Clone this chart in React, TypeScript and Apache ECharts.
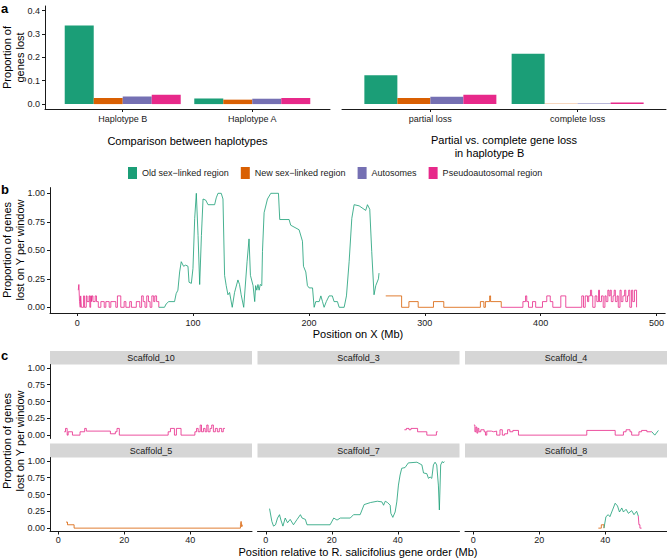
import React, { useEffect, useRef } from 'react';
import * as echarts from 'echarts';

const groups = ['Old sex−linked region', 'New sex−linked region', 'Autosomes', 'Pseudoautosomal region'];
const colors = ['#1B9E77', '#D95F02', '#7570B3', '#E7298A'];

// Panel a (left): comparison between haplotypes
const hapCategories = ['Haplotype B', 'Haplotype A'];
const hapOld = [0.337, 0.024];
const hapNew = [0.026, 0.019];
const hapAuto = [0.033, 0.023];
const hapPar = [0.040, 0.026];

// Panel a (right): partial vs complete loss in haplotype B
const lossCategories = ['partial loss', 'complete loss'];
const lossOld = [0.124, 0.216];
const lossNew = [0.026, 0.001];
const lossAuto = [0.031, 0.003];
const lossPar = [0.040, 0.007];

const aYTicks = [0, 0.1, 0.2, 0.3, 0.4];
const bXTicks = [0, 100, 200, 300, 400, 500];
const propTicks = [0, 0.25, 0.5, 0.75, 1];
const cXTicks = [0, 20, 40];

// Panel b: position on X (Mb), proportion lost on Y per window
const bParLeft = [[0.9,0.15],[1.4,0.2],[2.0,0.05],[2.6,0],[3.0,0.1],[3.6,0],[5.5,0.1],[6.2,0],[7.8,0.1],[8.5,0.05],[10.2,0.1],[10.9,0],[11.6,0.1],[12.3,0.05],[12.9,0.1],[13.6,0.05],[15.5,0.1],[16.6,0.05],[18.2,0],[20.4,0.05],[23.3,0],[24.7,0.05],[27.6,0],[29,0.05],[33.3,0],[34.7,0.1],[37.6,0],[40.5,0.05],[42,0],[45.3,0.05],[46.8,0],[51,0.05],[54,0],[55.6,0.1],[57,0.05],[58.5,0],[60,0.1],[61.5,0.05],[62.9,0],[64.4,0.1],[66,0.05],[67,0.1],[68.5,0.05],[70.4,0]];
const bOld = [[70.4,0],[75.3,0],[76.8,0.03],[79,0.05],[84,0.05],[85.4,0.12],[86.9,0.15],[88.4,0.31],[89.8,0.4],[91.8,0.36],[93.6,0.37],[95.6,0.36],[96.5,0.22],[98.5,0.21],[99.9,0.34],[101.4,0.78],[102.8,1.0],[104.3,0.63],[105.7,0.2],[107.2,0.63],[108.6,0.95],[110.9,0.94],[112.9,0.9],[118.6,0.9],[120,0.96],[121.5,1.0],[124.3,1.0],[125.8,0.95],[127.2,0.28],[128.6,0.19],[130.1,0.11],[131.5,0.13],[133.8,0],[135.8,0.13],[138.7,0.24],[140.1,0.2],[141.5,0.11],[143.7,0],[146.6,0.4],[148.3,0.6],[149.5,0.28],[151.8,0.19],[153.2,0.05],[154,0.19],[155,0.15],[156,0.2],[157,0.15],[158,0.2],[159.3,0.19],[159.9,0.49],[161.3,0.83],[164.2,0.95],[167.1,1.0],[173.7,1.0],[174.8,0.77],[182.9,0.77],[183.7,0.74],[184.3,0.72],[191.5,0.68],[194.4,0.58],[195.3,0.36],[197.3,0.31],[198.7,0.19],[200.2,0.17],[203.1,0.17],[204.5,0],[205.9,0.05],[208.8,0.05],[210.3,0.1],[211.7,0.05],[213.1,0],[215,0.05],[217.4,0.1],[220.2,0.1],[221.7,0.05],[224.6,0.05],[226.1,0],[230.4,0],[232.4,0.1],[234.7,0.4],[237,0.78],[239,0.9],[243.3,0.89],[249,0.85],[250.5,0.9],[252.5,0.86],[254.2,0.49],[256.2,0.11],[257.7,0.19],[260,0.25],[260.5,0.3]];
const bNew = [[266.3,0.1],[280,0],[286.3,0.05],[294.3,0],[307.5,0.05],[316.4,0],[348,0.05],[351,0],[352.3,0.05],[356,0.1],[356.8,0.05],[366,0]];
const bParRight = [[366,0],[384.7,0.05],[387,0.1],[388,0.05],[389.5,0],[393,0.05],[395.7,0],[401.6,0.05],[405.3,0.1],[408.3,0.05],[410.5,0],[417.4,0.1],[421.7,0],[435.5,0.1],[437,0],[438.5,0.1],[440.5,0.05],[441.5,0.1],[443,0.15],[444,0.1],[445,0],[447,0.1],[448.5,0.05],[450,0.15],[450.8,0.05],[452.5,0.1],[454,0],[455.5,0.1],[456.5,0.05],[458,0.15],[459,0.1],[460,0.15],[461,0.05],[462.5,0.1],[463.5,0.15],[464.5,0.05],[466,0.1],[467,0],[468.5,0.15],[469.5,0.05],[471,0.1],[472.5,0.15],[473.5,0.05],[475,0.1],[476,0.15],[477,0],[478.5,0.15],[479.5,0.05],[481,0.15],[482.8,0]];

// Panel c: scaffolds, position relative to R. salicifolius gene order (Mb)
const scaffoldNames = ['Scaffold_10', 'Scaffold_3', 'Scaffold_4', 'Scaffold_5', 'Scaffold_7', 'Scaffold_8'];
const s10Par = [[1.8,0.05],[2.2,0.1],[2.7,0],[3.0,0.05],[4.3,0],[6.6,0.05],[8.0,0.1],[8.5,0.06],[15.8,0.02],[17.3,0.05],[17.8,0.1],[18.5,0],[33.3,0.05],[34,0.1],[35.2,0],[35.8,0.1],[37.2,0],[41.4,0.05],[41.9,0.1],[42.4,0.05],[43,0.15],[43.4,0.05],[44,0.1],[44.5,0.05],[45,0.15],[45.4,0.05],[46,0.1],[46.5,0.15],[47,0.05],[47.6,0.1],[48.2,0.05],[48.8,0.1],[49.5,0.05],[50,0.1],[50.5,0.1]];
const s3Par = [[42,0.08],[42.6,0.1],[43.4,0.08],[44,0.1],[46,0.05],[48.8,0],[51.7,0.05],[52.1,0.05]];
const s4Par = [[0.2,0.15],[0.5,0.05],[0.8,0.12],[1.1,0.03],[1.4,0.1],[1.7,0.05],[2.3,0.08],[3.3,0.05],[3.7,0],[4.1,0.06],[5.5,0.05],[6.2,0.06],[7.1,0],[8.1,0.08],[8.8,0],[9.5,0.02],[10.4,0.08],[11.1,0.05],[12,0.07],[13.7,0],[34.4,0.07],[43,0],[45.5,0.05],[46.3,0.08],[47.5,0.05],[48,0],[50.2,0.05],[51,0.07],[52.6,0.05],[54.1,0.05]];
const s4Old = [[54.1,0.05],[55,0],[56.1,0.07]];
const s5New = [[2.35,0.09],[2.8,0.05],[4.8,0],[55.2,0.05],[55.4,0.1],[55.6,0.02],[55.8,0.05],[56,0.05]];
const s7Old = [[1.15,0.29],[1.85,0.1],[2.36,0.03],[2.96,0.05],[3.57,0.15],[4.17,0.2],[4.6,0.12],[5.2,0.03],[5.9,0.15],[6.6,0.08],[7.4,0.13],[8.4,0.05],[9.5,0.13],[10.5,0.2],[11,0.15],[12,0.13],[12.5,0.05],[19.5,0.05],[20.6,0.15],[21.6,0.12],[22.6,0.15],[25.6,0.15],[26.6,0.2],[28.6,0.2],[29.8,0.35],[31.7,0.38],[33.8,0.4],[35.2,0.39],[35.7,0.34],[36.2,0.4],[36.9,0.38],[37.7,0.34],[37.9,0.22],[38.5,0.16],[39.2,0.24],[39.7,0.39],[40.2,0.64],[40.7,0.79],[41.2,0.89],[42.2,0.9],[43.2,0.97],[45.8,0.98],[47.3,0.94],[47.8,0.82],[48.8,0.81],[49.3,0.74],[49.8,0.76],[50.3,0.74],[50.8,0.94],[51.3,0.98],[51.8,0.94],[52.3,0.64],[52.6,0.27],[53,0.94],[53.5,0.99],[53.8,0.97],[54.1,0.99]];
const s8New = [[37.9,0],[38.8,0.05],[39.6,0]];
const s8Old = [[39.6,0],[40.2,0.17],[40.9,0.2],[41.4,0.17],[42.2,0.27],[43,0.37],[43.7,0.33],[44.3,0.24],[45,0.3],[45.5,0.24],[46.3,0.28],[47,0.22],[48,0.26],[48.7,0.2],[49.5,0.25],[50,0.18]];
const s8Par = [[50,0.18],[50.2,0.05],[50.5,0],[51,0]];

const FONT = '"Liberation Sans", Arial, Helvetica, sans-serif';
const AX = '#1a1a1a';
const TXT = '#1a1a1a';

function valAxis(gridIndex: number, min: number, max: number, ticks: number[], o: any) {
  return {
    type: 'value', gridIndex, min, max,
    offset: o.offset || 0,
    axisLine: { show: !!o.line, onZero: false, lineStyle: { color: AX, width: 1 } },
    axisTick: { show: !!o.line, customValues: ticks, length: 3, lineStyle: { color: AX, width: 1 } },
    axisLabel: { show: !!o.labels, customValues: ticks, formatter: o.fmt, fontSize: 9, color: TXT, fontFamily: FONT, margin: o.margin ?? 5 },
    splitLine: { show: false },
  };
}

export default function App() {
  const ref = useRef<HTMLDivElement>(null);
  useEffect(() => {
    if (!ref.current) return;
    const chart = echarts.init(ref.current, null, { renderer: 'svg' });

    const grids: any[] = [
      { left: 45, top: 6, width: 285, height: 103 },
      { left: 342, top: 6, width: 324, height: 103 },
      { left: 50, top: 187.6, width: 617, height: 125.4 },
    ];
    const colLeft = [50, 257.5, 465];
    const rowTop = [364.5, 457.5];
    for (let r = 0; r < 2; r++) for (let c = 0; c < 3; c++) grids.push({ left: colLeft[c], top: rowTop[r], width: 202, height: 74 });

    const f2 = (v: number) => v.toFixed(2);
    const f1 = (v: number) => v.toFixed(1);
    const fi = (v: number) => String(Math.round(v));

    const xAxes: any[] = [
      valAxis(0, 0.4, 2.6, [1, 2], { line: true, labels: true, fmt: (v: number) => hapCategories[Math.round(v) - 1], margin: 5 }),
      valAxis(1, 0.4, 2.6, [1, 2], { line: true, labels: true, fmt: (v: number) => lossCategories[Math.round(v) - 1], margin: 5 }),
      valAxis(2, -23.5, 507.5, bXTicks, { line: true, labels: true, fmt: fi, margin: 5 }),
    ];
    const yAxes: any[] = [
      valAxis(0, -0.021, 0.42, aYTicks, { line: true, labels: true, fmt: f1 }),
      valAxis(1, -0.021, 0.42, aYTicks, { line: false, labels: false }),
      valAxis(2, -0.05, 1.05, propTicks, { line: true, labels: true, fmt: f2 }),
    ];
    for (let i = 0; i < 6; i++) {
      const r = Math.floor(i / 3), c = i % 3;
      xAxes.push(valAxis(3 + i, -2.5, 58.7, cXTicks, { line: r === 1, labels: r === 1, fmt: fi, margin: 4 }));
      yAxes.push(valAxis(3 + i, -0.05, 1.05, propTicks, { line: c === 0, labels: c === 0, fmt: f2 }));
    }

    const hapData = [hapOld, hapNew, hapAuto, hapPar];
    const lossData = [lossOld, lossNew, lossAuto, lossPar];
    const series: any[] = [];
    for (let g = 0; g < 4; g++) {
      series.push({ type: 'bar', name: groups[g], xAxisIndex: 0, yAxisIndex: 0, barWidth: 29, barGap: '0%',
        itemStyle: { color: colors[g] }, data: hapData[g].map((v, j) => [j + 1, v]) });
    }
    for (let g = 0; g < 4; g++) {
      series.push({ type: 'bar', name: groups[g], xAxisIndex: 1, yAxisIndex: 1, barWidth: 33, barGap: '0%',
        itemStyle: { color: colors[g] }, data: lossData[g].map((v, j) => [j + 1, v]) });
    }
    const line = (name: number, axis: number, data: number[][], step: boolean) => ({
      type: 'line', name: groups[name], xAxisIndex: axis, yAxisIndex: axis, data,
      showSymbol: false, symbol: 'none', step: step ? 'end' : false, clip: true,
      lineStyle: { color: colors[name], width: 0.9, opacity: 0.9 }, itemStyle: { color: colors[name] },
    });
    series.push(line(3, 2, bParLeft, true));
    series.push(line(0, 2, bOld, false));
    series.push(line(1, 2, bNew, true));
    series.push(line(3, 2, bParRight, true));
    series.push(line(3, 3, s10Par, true));
    series.push(line(3, 4, s3Par, true));
    series.push(line(3, 5, s4Par, true));
    series.push(line(0, 5, s4Old, false));
    series.push(line(1, 6, s5New, true));
    series.push(line(0, 7, s7Old, false));
    series.push(line(1, 8, s8New, true));
    series.push(line(0, 8, s8Old, false));
    series.push(line(3, 8, s8Par, true));

    const txt = (x: number, y: number, text: string, size: number, extra: any = {}) => ({
      type: 'text', x, y, rotation: extra.rotation || 0, silent: true,
      style: { text, fontSize: size, fontFamily: FONT, fill: extra.fill || '#000', fontWeight: extra.bold ? 'bold' : 'normal',
        align: extra.align || 'center', verticalAlign: 'middle', textAlign: extra.align || 'center', textVerticalAlign: 'middle', lineHeight: extra.lh || size * 1.15 },
    });

    const graphic: any[] = [
      txt(1, 8, 'a', 13, { bold: true, align: 'left' }),
      txt(1, 189, 'b', 13, { bold: true, align: 'left' }),
      txt(1, 355, 'c', 13, { bold: true, align: 'left' }),
      txt(13, 57.5, 'Proportion of\ngenes lost', 11, { rotation: Math.PI / 2, lh: 13 }),
      txt(187.5, 140.5, 'Comparison between haplotypes', 11),
      txt(504, 140, 'Partial vs. complete gene loss', 11),
      txt(489.5, 152.5, 'in haplotype B', 11),
      txt(13, 250, 'Proportion of genes\nlost on Y per window', 11, { rotation: Math.PI / 2, lh: 13 }),
      txt(358, 334, 'Position on X (Mb)', 11),
      txt(13, 441, 'Proportion of genes\nlost on Y per window', 11, { rotation: Math.PI / 2, lh: 13 }),
      txt(358, 552, 'Position relative to R. salicifolius gene order (Mb)', 11),
    ];
    const stripTop = [351, 443.5];
    for (let i = 0; i < 6; i++) {
      const r = Math.floor(i / 3), c = i % 3;
      graphic.push({ type: 'rect', silent: true, shape: { x: colLeft[c], y: stripTop[r], width: 202, height: rowTop[r] - stripTop[r] }, style: { fill: '#D6D6D6' } });
      graphic.push(txt(colLeft[c] + 101, (stripTop[r] + rowTop[r]) / 2, scaffoldNames[i], 9, { fill: '#1a1a1a' }));
    }

    chart.setOption({
      animation: false,
      backgroundColor: '#fff',
      textStyle: { fontFamily: FONT },
      grid: grids,
      xAxis: xAxes,
      yAxis: yAxes,
      legend: {
        data: groups, icon: 'rect', itemWidth: 9, itemHeight: 12, itemGap: 12,
        left: 123, top: 162, selectedMode: false,
        textStyle: { fontSize: 9, fontFamily: FONT, color: TXT },
      },
      series,
      graphic,
    });
    return () => chart.dispose();
  }, []);
  return <div ref={ref} style={{ position: 'absolute', left: 0, top: 0, width: 667, height: 559 }} />;
}
